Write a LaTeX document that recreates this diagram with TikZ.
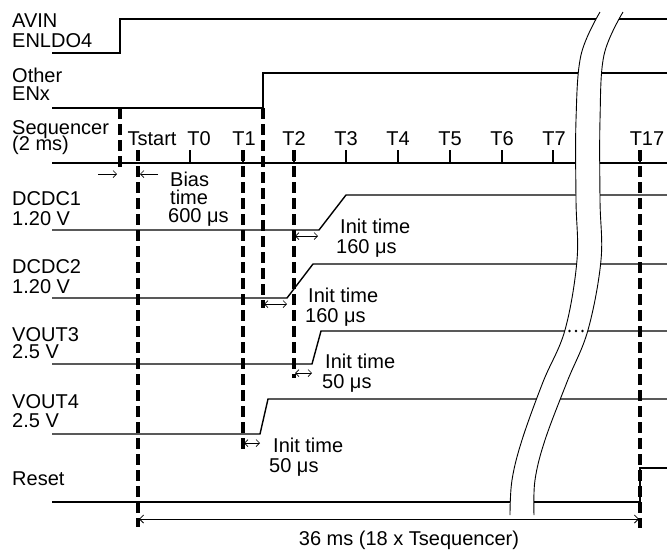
\documentclass[tikz,border=0pt]{standalone}
\usepackage{fontspec}
\setmainfont{Liberation Sans}
\usetikzlibrary{arrows.meta}
\begin{document}
\begin{tikzpicture}[x=1pt,y=-1pt,
  sig/.style={line width=1.4pt, line join=miter},
  dv/.style={line width=3.2pt, dash pattern=on 11pt off 5pt},
  brk/.style={line width=0.9pt},
  tk/.style={line width=1.2pt},
  lbl/.style={font=\fontsize{20pt}{20pt}\selectfont, inner sep=0pt, anchor=base west},
  tl/.style={font=\fontsize{20pt}{20pt}\selectfont, inner sep=0pt, anchor=base},
  sa/.style={line width=0.7pt, {Straight Barb[length=3.5pt,width=7pt]}-{Straight Barb[length=3.5pt,width=7pt]}},
  ra/.style={line width=0.7pt, -{Straight Barb[length=3.5pt,width=7pt]}},
  dimarrow/.style={line width=0.8pt, {Straight Barb[length=4pt,width=8pt]}-{Straight Barb[length=4pt,width=8pt]}},
]
\useasboundingbox (0,0) rectangle (667,550);

% ---- left labels
\node[lbl] (avin) at (12,27) {AVIN};
\node[lbl] (enldo) at (12,47) {ENLDO4};
\node[lbl] (other) at (12,82) {Other};
\node[lbl] (enx) at (12,100) {ENx};
\node[lbl] (seq) at (12,134) {Sequencer};
\node[lbl] (seqb) at (12,150) {(2 ms)};
\node[lbl] (dc1) at (12,205) {DCDC1};
\node[lbl] (dc1v) at (12,225) {1.20 V};
\node[lbl] (dc2) at (12,273) {DCDC2};
\node[lbl] (dc2v) at (12,293) {1.20 V};
\node[lbl] (vo3) at (12,341) {VOUT3};
\node[lbl] (vo3v) at (12,358) {2.5 V};
\node[lbl] (vo4) at (12,408) {VOUT4};
\node[lbl] (vo4v) at (12,427) {2.5 V};
\node[lbl] (rst) at (12,485) {Reset};

% ---- sequencer tick labels
\node[tl] (ltstart) at (152,145) {Tstart};
\node[tl] (lt0) at (199,145) {T0};
\node[tl] (lt1) at (244,145) {T1};
\node[tl] (lt2) at (294,145) {T2};
\node[tl] (lt3) at (346,145) {T3};
\node[tl] (lt4) at (398,145) {T4};
\node[tl] (lt5) at (450,145) {T5};
\node[tl] (lt6) at (502,145) {T6};
\node[tl] (lt7) at (554,145) {T7};
\node[tl] (lt17) at (647,145) {T17};

% ---- signals
\draw[sig] (52,53) -- (120,53) -- (120,19) -- (667,19);
\draw[sig] (52,108) -- (263,108) -- (263,73) -- (667,73);
\draw[sig] (52,163) -- (667,163);
\foreach \x in {190,243,294,346,398,450,502,553,640}
  \draw[tk] (\x,150) -- (\x,163);
\draw[sig] (52,230) -- (319,230) -- (346,195) -- (667,195);
\draw[sig] (52,298) -- (287,298) -- (313,264) -- (667,264);
\draw[sig] (52,364) -- (312,364) -- (321,331) -- (667,331);
\draw[sig] (52,434) -- (260,434) -- (268,399) -- (667,399);
\draw[sig] (52,502) -- (640,502) -- (640,468) -- (667,468);

% ---- dashed markers
\draw[dv] (120,108) -- (120,170);
\draw[dv] (138,150) -- (138,527);
\draw[dv] (243,150) -- (243,449);
\draw[dv] (263,108) -- (263,308);
\draw[dv] (294,150) -- (294,378);
\draw[dv] (640,150) -- (640,528);

% ---- bias time
\coordinate (ba1) at (98,174);
\coordinate (ba2) at (117,174);
\coordinate (bb1) at (158,174);
\coordinate (bb2) at (140,174);
\draw[ra] (ba1) -- (ba2);
\draw[ra] (bb1) -- (bb2);
\node[lbl] (bias1) at (170,186) {Bias};
\node[lbl] (bias2) at (170,204) {time};
\node[lbl] (bias3) at (168,222) {600 μs};

% ---- init times
\coordinate (i1a) at (295,236); \coordinate (i1b) at (318,236);
\draw[sa] (i1a) -- (i1b);
\node[lbl] (it1) at (340,233) {Init time};
\node[lbl] (it1b) at (336,253) {160 μs};

\coordinate (i2a) at (264,304); \coordinate (i2b) at (287,304);
\draw[sa] (i2a) -- (i2b);
\node[lbl] (it2) at (308,302) {Init time};
\node[lbl] (it2b) at (305,322) {160 μs};

\coordinate (i3a) at (295,373); \coordinate (i3b) at (312,373);
\draw[sa] (i3a) -- (i3b);
\node[lbl] (it3) at (325,368) {Init time};
\node[lbl] (it3b) at (322,388) {50 μs};

\coordinate (i4a) at (244,443); \coordinate (i4b) at (260,443);
\draw[sa] (i4a) -- (i4b);
\node[lbl] (it4) at (273,452) {Init time};
\node[lbl] (it4b) at (269,472) {50 μs};

% ---- time break
\fill[white] plot[smooth, tension=0.6] coordinates {(600,12) (581,55) (576,120) (576,200) (577,260) (565,330) (543,382) (522,440) (512,480) (510,515)}
  -- plot[smooth, tension=0.6] coordinates {(534,515) (535,480) (545,440) (567,382) (588,330) (601,260) (600,200) (600,120) (604,55) (623,12)} -- cycle;
\draw[brk] plot[smooth, tension=0.6] coordinates {(600,12) (581,55) (576,120) (576,200) (577,260) (565,330) (543,382) (522,440) (512,480) (510,515)};
\draw[brk] plot[smooth, tension=0.6] coordinates {(623,12) (604,55) (600,120) (600,200) (601,260) (588,330) (567,382) (545,440) (535,480) (534,515)};
\foreach \x in {569.5,576,582.5}
  \fill (\x,331) circle (1.3pt);

% ---- total duration
\coordinate (d1) at (139,519);
\coordinate (d2) at (639,519);
\draw[dimarrow] (d1) -- (d2);
\node[tl] (total) at (409,545) {36 ms (18 x Tsequencer)};
\end{tikzpicture}
\end{document}
